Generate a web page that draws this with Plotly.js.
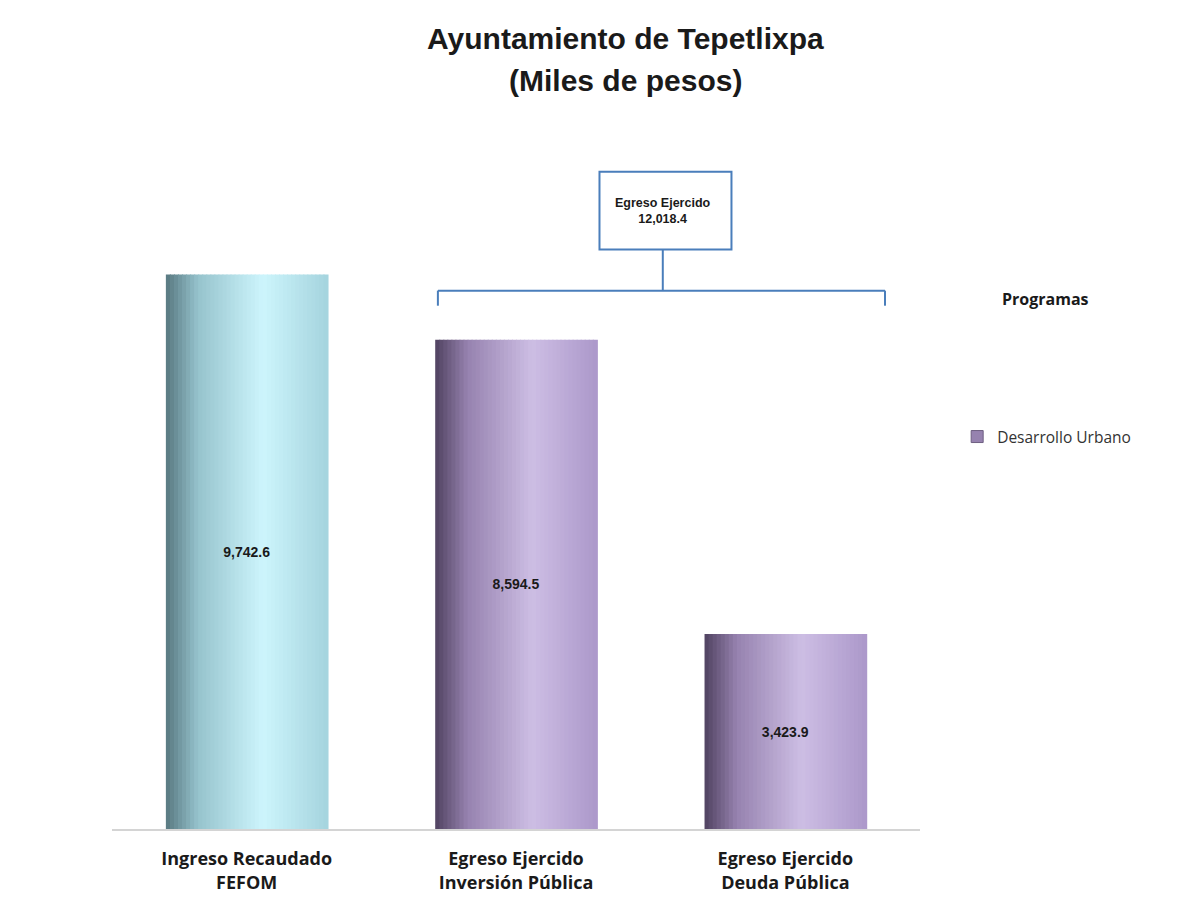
<!DOCTYPE html>
<html>
<head>
<meta charset="utf-8">
<script src="https://cdn.plot.ly/plotly-3.0.1.min.js"></script>
<style>body{margin:0;background:#fff}#chart{width:1199px;height:910px}</style>
</head>
<body>
<div id="chart"></div>
<script>
// ---- data ----
const categories = ["Ingreso Recaudado<br>FEFOM", "Egreso Ejercido<br>Inversión Pública", "Egreso Ejercido<br>Deuda Pública"];
const values = [9742.6, 8594.5, 3423.9];
const valueLabels = ["9,742.6", "8,594.5", "3,423.9"];
const egresoTotal = 12018.4;
const egresoLabel = "Egreso Ejercido<br>12,018.4";
const legendTitle = "Programas";
const seriesName = "Desarrollo Urbano";
const titleLine1 = "Ayuntamiento de Tepetlixpa";
const titleLine2 = "(Miles de pesos)";

// ---- styling: cylinder-like horizontal gradient built from overlaid strips ----
const tealStops = [[0, [88,120,128]], [0.2, [150,195,205]], [0.6, [205,245,252]], [1, [165,212,222]]];
const purpleStops = [[0, [80,66,96]], [0.2, [150,130,175]], [0.6, [205,190,228]], [1, [172,152,202]]];
function interp(stops, t) {
  for (let i = 1; i < stops.length; i++) {
    if (t <= stops[i][0]) {
      const a = stops[i-1], b = stops[i];
      const f = (t - a[0]) / (b[0] - a[0]);
      const c = a[1].map((v, k) => Math.round(v + (b[1][k] - v) * f));
      return `rgb(${c[0]},${c[1]},${c[2]})`;
    }
  }
  const c = stops[stops.length-1][1];
  return `rgb(${c[0]},${c[1]},${c[2]})`;
}
const barWidth = 0.6;
const N = 40;
const traces = [];
for (let k = 0; k < N; k++) {
  const t = (k + 0.5) / N;
  const w = barWidth / N;
  traces.push({
    type: "bar",
    x: categories,
    y: values,
    width: w + 0.004,
    offset: -barWidth/2 + k*w,
    marker: {color: [interp(tealStops, t), interp(purpleStops, t), interp(purpleStops, t)], line: {width: 0}},
    showlegend: false,
    hoverinfo: k === Math.floor(N/2) ? "x+y" : "skip"
  });
}
// labels in the middle of each bar
traces.push({
  type: "bar",
  x: categories,
  y: values,
  width: barWidth,
  offset: -barWidth/2,
  marker: {color: "rgba(0,0,0,0)", line: {width: 0}},
  text: valueLabels,
  textposition: "inside",
  insidetextanchor: "middle",
  textangle: 0,
  textfont: {family: "Liberation Sans, Arial", size: 14, color: "#1a1a1a", weight: "bold"},
  showlegend: false,
  hoverinfo: "skip"
});
// legend entry
traces.push({
  type: "bar",
  x: [categories[1]],
  y: [null],
  name: seriesName,
  marker: {color: "rgb(150,130,175)", line: {color: "rgb(110,95,130)", width: 1}},
  showlegend: true,
  hoverinfo: "skip"
});

// ---- bracket above the egress bars ----
const bx0 = 0.71, bx1 = 2.37, bxc = 1.545;
const byTop = egresoTotal * 0.787;
const byEnd = egresoTotal * 0.765;
const boxBottom = egresoTotal * 0.847;
const boxTop = egresoTotal * 0.961;
const bracketColor = "#4a7ebb";

const titleFont = {family: "Liberation Sans, Arial", size: 30, color: "#1a1a1a", weight: "bold"};

const layout = {
  width: 1199,
  height: 910,
  paper_bgcolor: "#ffffff",
  plot_bgcolor: "#ffffff",
  margin: {l: 112, r: 279, t: 146, b: 81},
  barmode: "overlay",
  bargap: 0.4,
  xaxis: {
    type: "category",
    range: [-0.5, 2.5],
    showline: true, linecolor: "#d4d4d4", linewidth: 1.5,
    ticks: "", showgrid: false, zeroline: false,
    tickfont: {family: "Open Sans, Noto Sans, Arial", size: 18, color: "#1a1a1a", weight: "bold"},
    ticklabelstandoff: 13,
    fixedrange: true
  },
  yaxis: {
    range: [0, 12000],
    visible: false,
    showgrid: false, zeroline: false,
    fixedrange: true
  },
  legend: {
    x: 1.046, xanchor: "left",
    y: 0.574, yanchor: "middle",
    font: {family: "Open Sans, Noto Sans, Arial", size: 15.5, color: "#333"},
    bgcolor: "rgba(0,0,0,0)",
    itemwidth: 30
  },
  shapes: [
    {type: "line", xref: "x", yref: "y", x0: bx0, x1: bx1, y0: byTop, y1: byTop, line: {color: bracketColor, width: 2}},
    {type: "line", xref: "x", yref: "y", x0: bx0, x1: bx0, y0: byTop, y1: byEnd, line: {color: bracketColor, width: 2}},
    {type: "line", xref: "x", yref: "y", x0: bx1, x1: bx1, y0: byTop, y1: byEnd, line: {color: bracketColor, width: 2}},
    {type: "line", xref: "x", yref: "y", x0: bxc, x1: bxc, y0: byTop, y1: boxBottom, line: {color: bracketColor, width: 2}},
    {type: "rect", xref: "x", yref: "y", x0: 1.31, x1: 1.80, y0: boxBottom, y1: boxTop, line: {color: bracketColor, width: 2}, fillcolor: "#ffffff"}
  ],
  annotations: [
    {xref: "paper", yref: "paper", x: 0.636, y: 1.158, xanchor: "center", yanchor: "middle", text: titleLine1, showarrow: false, font: titleFont},
    {xref: "paper", yref: "paper", x: 0.636, y: 1.0966, xanchor: "center", yanchor: "middle", text: titleLine2, showarrow: false, font: titleFont},
    {xref: "x", yref: "y", x: bxc, y: (boxBottom + boxTop)/2, text: egresoLabel, showarrow: false,
     font: {family: "Liberation Sans, Arial", size: 12.5, color: "#1a1a1a", weight: "bold"}, align: "center"},
    {xref: "paper", yref: "paper", x: 1.155, y: 0.776, xanchor: "center", yanchor: "middle", text: legendTitle, showarrow: false,
     font: {family: "Open Sans, Noto Sans, Arial", size: 16, color: "#1a1a1a", weight: "bold"}}
  ]
};

Plotly.newPlot("chart", traces, layout, {displayModeBar: false, responsive: false});
</script>
</body>
</html>
